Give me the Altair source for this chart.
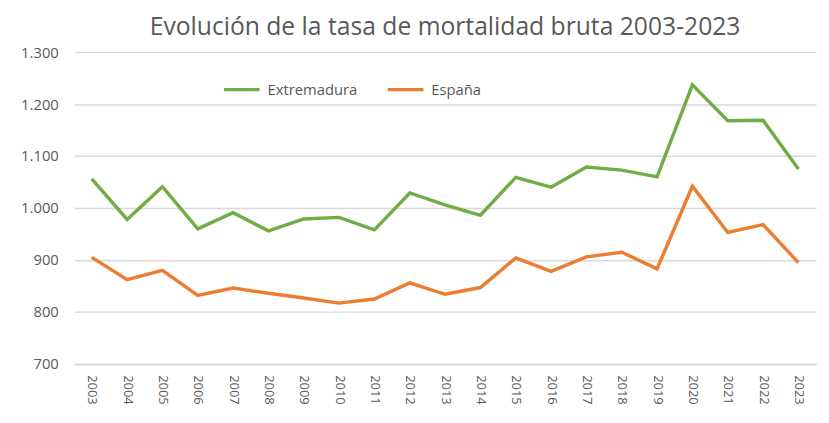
import altair as alt
import pandas as pd

years = [str(y) for y in range(2003, 2024)]
extremadura = [1056, 978, 1041, 960, 991, 956, 979, 982, 958, 1029, 1006,
               986, 1059, 1040, 1079, 1073, 1060, 1237, 1168, 1169, 1075]
espana = [905, 862, 880, 832, 846, 836, 827, 817, 825, 856, 834,
          847, 904, 878, 906, 915, 883, 1042, 953, 968, 895]
series = ["Extremadura", "España"]
colors = ["#70ad47", "#ed7d31"]

rows = []
for y, a, b in zip(years, extremadura, espana):
    rows.append({"year": y, "serie": series[0], "valor": a})
    rows.append({"year": y, "serie": series[1], "valor": b})
df = pd.DataFrame(rows)

FONT = "Open Sans"
GREY = "#595959"

chart = alt.Chart(df).mark_line(strokeWidth=3.5).encode(
    x=alt.X("year:O", title=None, sort=years,
            scale=alt.Scale(paddingOuter=0.5),
            axis=alt.Axis(labelAngle=90, labelColor=GREY, labelFontSize=13,
                          labelFont=FONT, ticks=False, domainColor="#d9d9d9",
                          domainWidth=1.5, labelPadding=11, labelBaseline="middle",
                          labelAlign="left", grid=False)),
    y=alt.Y("valor:Q", title=None,
            scale=alt.Scale(domain=[700, 1300], nice=False, zero=False),
            axis=alt.Axis(values=[700, 800, 900, 1000, 1100, 1200, 1300],
                          labelExpr="replace(format(datum.value, ','), ',', '.')",
                          labelColor=GREY, labelFontSize=15, labelFont=FONT,
                          ticks=False, domain=False, gridColor="#d9d9d9",
                          gridWidth=1.5, labelPadding=16, minExtent=62,
                          maxExtent=62)),
    color=alt.Color("serie:N", sort=series,
                    scale=alt.Scale(domain=series, range=colors),
                    legend=alt.Legend(title=None, orient="none", legendX=150,
                                      legendY=18, direction="horizontal",
                                      symbolType="stroke", symbolSize=1300,
                                      symbolStrokeWidth=3.5, labelFontSize=15,
                                      labelFont=FONT, labelColor=GREY,
                                      columnPadding=22, labelOffset=6)),
).properties(
    width=752,
    height=316,
    title=alt.TitleParams("Evolución de la tasa de mortalidad bruta 2003-2023",
                          fontSize=25, font=FONT, fontWeight="normal",
                          color=GREY, anchor="middle", offset=5),
).configure_view(stroke=None)

chart.save("out.html", embed_options={"renderer": "svg", "actions": False})
